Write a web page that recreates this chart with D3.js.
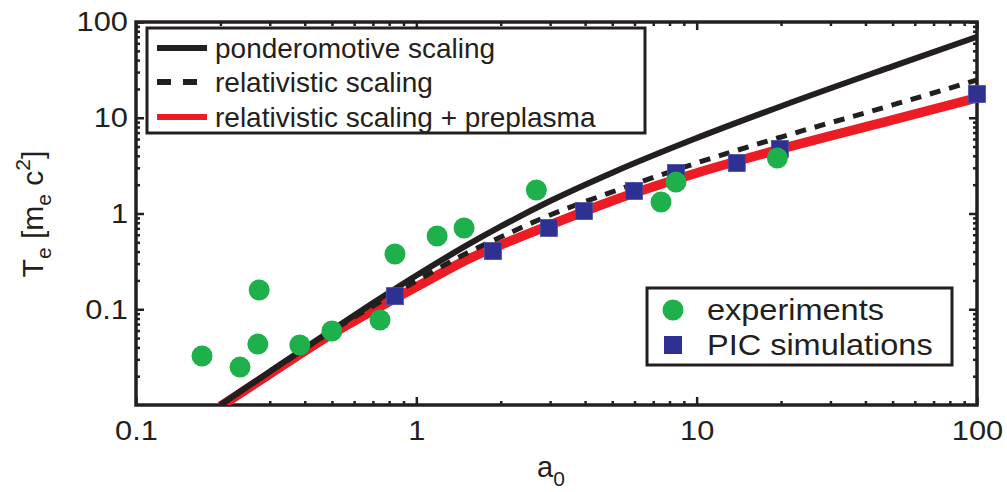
<!DOCTYPE html>
<html>
<head>
<meta charset="utf-8">
<script src="https://cdn.jsdelivr.net/npm/d3@7"></script>
<style>
  body { margin: 0; background: #fff; }
  text { font-family: "Liberation Sans", Arial, Helvetica, sans-serif; fill: #231f20; }
</style>
</head>
<body>
<div id="chart"></div>
<script>
"use strict";

// === Data ===
// experiments (green circles)
const aExp  = [0.172, 0.235, 0.275, 0.272, 0.384, 0.500, 0.742, 0.839, 1.186, 1.48, 2.68, 7.46, 8.44, 19.4];
const teExp = [0.0325, 0.0249, 0.159, 0.0433, 0.0423, 0.0593, 0.0773, 0.378, 0.582, 0.706, 1.76, 1.32, 2.13, 3.80];

// PIC simulations (blue squares)
const aPic  = [0.839, 1.877, 2.97, 3.96, 5.98, 8.44, 13.9, 19.8, 100];
const tePic = [0.137, 0.405, 0.707, 1.06, 1.72, 2.65, 3.37, 4.72, 17.7];

// ponderomotive scaling (black solid)
const aPond  = [0.2, 0.3, 0.5, 0.7, 1, 1.5, 2, 3, 5, 10, 20, 50, 100];
const tePond = [0.0100, 0.0223, 0.0607, 0.116, 0.225, 0.458, 0.732, 1.35, 2.67, 6.14, 13.2, 34.4, 70];

// relativistic scaling (black dashed)
const aRel  = [0.2, 0.3, 0.5, 1, 1.55, 2, 3, 5, 10, 20, 50, 100];
const teRel = [0.0100, 0.0221, 0.0593, 0.197, 0.40, 0.568, 0.964, 1.68, 3.37, 6.29, 13.6, 24.8];

// relativistic scaling + preplasma (red)
const aPre  = [0.2, 0.3, 0.5, 1, 1.55, 2, 3, 5, 10, 20, 50, 100];
const tePre = [0.0097, 0.0211, 0.0551, 0.171, 0.34, 0.47, 0.759, 1.36, 2.65, 4.72, 9.48, 16.1];

const xTicks = [0.1, 1, 10, 100];
const yTicks = [0.1, 1, 10, 100];

const legendLines = ["ponderomotive scaling", "relativistic scaling", "relativistic scaling + preplasma"];
const legendMarks = ["experiments", "PIC simulations"];

// === SVG setup ===
const W = 1007, H = 492;
const plot = { left: 136, right: 977, top: 22, bottom: 405 };
const ink = "#231f20";
const red = "#ed1c24", green = "#1db04b", blue = "#2e3192";

const svg = d3.select("#chart").append("svg")
  .attr("width", W).attr("height", H);

// stretch text a bit sideways, the figure's font is wider than Liberation Sans
function widen(sel, k) {
  sel.each(function () {
    const w = this.getComputedTextLength();
    if (w > 0) d3.select(this).attr("textLength", w * k).attr("lengthAdjust", "spacingAndGlyphs");
  });
}

// === Scales ===
const x = d3.scaleLog().domain([0.1, 100]).range([plot.left, plot.right]);
const y = d3.scaleLog().domain([0.01, 100]).range([plot.bottom, plot.top]);

// minor tick positions (2..9 in each decade)
const minor = (lo, hi) => {
  const out = [];
  for (let d = lo; d < hi; d *= 10) for (let k = 2; k <= 9; k++) out.push(d * k);
  return out;
};
const xMinor = minor(0.1, 100);
const yMinor = minor(0.01, 100);

svg.append("clipPath").attr("id", "clip")
  .append("rect")
  .attr("x", plot.left).attr("y", plot.top)
  .attr("width", plot.right - plot.left).attr("height", plot.bottom - plot.top);

// === Axes (inward ticks on all four sides) ===
const fmt = d => String(d);
function styleAxis(g) {
  g.select(".domain").remove();
  g.selectAll(".tick line").attr("stroke", ink).attr("stroke-width", 2.5);
  g.selectAll(".tick text").attr("font-size", 28).attr("fill", ink)
    .style("font-family", '"Liberation Sans", Arial, sans-serif');
}

const axes = [
  [d3.axisBottom(x), `translate(0,${plot.bottom})`, xTicks, xMinor, true],
  [d3.axisTop(x), `translate(0,${plot.top})`, xTicks, xMinor, false],
  [d3.axisLeft(y), `translate(${plot.left},0)`, yTicks, yMinor, true],
  [d3.axisRight(y), `translate(${plot.right},0)`, yTicks, yMinor, false]
];
axes.forEach(([ax, tr, major, mnr, labels]) => {
  svg.append("g").attr("transform", tr)
    .call(ax.tickValues(mnr).tickSize(-4).tickFormat(""))
    .call(styleAxis);
  const isX = tr.startsWith("translate(0");
  const g = svg.append("g").attr("transform", tr)
    .call(ax.tickValues(major).tickSize(-8).tickPadding(isX ? 15 : 8)
      .tickFormat(labels ? fmt : ""))
    .call(styleAxis);
  if (labels) widen(g.selectAll(".tick text"), 1.1);
});

svg.append("rect")
  .attr("x", plot.left).attr("y", plot.top)
  .attr("width", plot.right - plot.left).attr("height", plot.bottom - plot.top)
  .attr("fill", "none").attr("stroke", ink).attr("stroke-width", 3.5);

// === Curves ===
const line = d3.line().x(d => x(d[0])).y(d => y(d[1])).curve(d3.curveMonotoneX);
const curves = svg.append("g").attr("clip-path", "url(#clip)");

curves.append("path").datum(d3.zip(aPre, tePre))
  .attr("d", line).attr("fill", "none").attr("stroke", red).attr("stroke-width", 9.5);
curves.append("path").datum(d3.zip(aRel, teRel))
  .attr("d", line).attr("fill", "none").attr("stroke", ink).attr("stroke-width", 5)
  .attr("stroke-dasharray", "11,9");
curves.append("path").datum(d3.zip(aPond, tePond))
  .attr("d", line).attr("fill", "none").attr("stroke", ink).attr("stroke-width", 6);

// === Markers ===
const sq = 17;
svg.append("g").selectAll("rect")
  .data(d3.zip(aPic, tePic)).join("rect")
  .attr("x", d => x(d[0]) - sq / 2).attr("y", d => y(d[1]) - sq / 2)
  .attr("width", sq).attr("height", sq)
  .attr("fill", blue).attr("stroke", "#4a4fa6").attr("stroke-width", 0.8);

svg.append("g").selectAll("circle")
  .data(d3.zip(aExp, teExp)).join("circle")
  .attr("cx", d => x(d[0])).attr("cy", d => y(d[1]))
  .attr("r", 10.5).attr("fill", green);

// === Axis labels ===
const xl = svg.append("text").attr("x", 551).attr("y", 477)
  .attr("text-anchor", "middle").attr("font-size", 29);
xl.append("tspan").text("a");
xl.append("tspan").attr("font-size", 21).attr("dy", 9).text("0");

const yl = svg.append("text")
  .attr("transform", "translate(43,214) rotate(-90)")
  .attr("text-anchor", "middle").attr("font-size", 30);
yl.append("tspan").text("T");
yl.append("tspan").attr("font-size", 21).attr("dy", 8).text("e");
yl.append("tspan").attr("dy", -8).text(" [m");
yl.append("tspan").attr("font-size", 21).attr("dy", 8).text("e");
yl.append("tspan").attr("dy", -8).text(" c");
yl.append("tspan").attr("font-size", 21).attr("dy", -13).text("2");
yl.append("tspan").attr("dy", 13).text("]");

// === Legend: lines ===
const lg1 = svg.append("g");
lg1.append("rect").attr("x", 147).attr("y", 28).attr("width", 498).attr("height", 105)
  .attr("fill", "#fff").attr("stroke", ink).attr("stroke-width", 3);
const rowsY = [48, 82, 117];
const lineStyles = [
  { stroke: ink, w: 6, dash: null },
  { stroke: ink, w: 6, dash: "14,12" },
  { stroke: red, w: 6, dash: null }
];
legendLines.forEach((t, i) => {
  lg1.append("line").attr("x1", 157).attr("x2", 207)
    .attr("y1", rowsY[i]).attr("y2", rowsY[i])
    .attr("stroke", lineStyles[i].stroke).attr("stroke-width", lineStyles[i].w)
    .attr("stroke-dasharray", lineStyles[i].dash);
  lg1.append("text").attr("x", 215).attr("y", rowsY[i]).attr("dy", "0.35em")
    .attr("font-size", 28).text(t);
});

// === Legend: markers ===
const lg2 = svg.append("g");
lg2.append("rect").attr("x", 647).attr("y", 288).attr("width", 305).attr("height", 77)
  .attr("fill", "#fff").attr("stroke", ink).attr("stroke-width", 3);
lg2.append("circle").attr("cx", 673).attr("cy", 310).attr("r", 10.5).attr("fill", green);
lg2.append("rect").attr("x", 673 - 9).attr("y", 345 - 9).attr("width", 18).attr("height", 18)
  .attr("fill", blue);
legendMarks.forEach((t, i) => {
  lg2.append("text").attr("x", 707).attr("y", [310, 345][i]).attr("dy", "0.35em")
    .attr("font-size", 29).text(t);
});
widen(lg2.selectAll("text"), 1.12);
</script>
</body>
</html>
